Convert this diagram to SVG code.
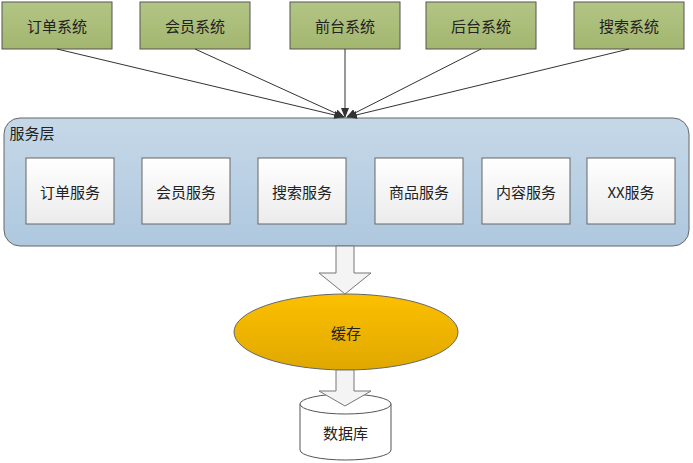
<svg xmlns="http://www.w3.org/2000/svg" width="693" height="463" viewBox="0 0 693 463">
<style>
text{font-family:"Noto Sans CJK SC","Liberation Sans",sans-serif;font-size:15px;fill:#222;text-anchor:middle;dominant-baseline:central}
.sys{fill:url(#g);stroke:#555;stroke-width:1}
.svc{fill:url(#w);stroke:#666;stroke-width:1}
.ln{stroke:#333;stroke-width:1;fill:none;marker-end:url(#ah)}
.big{fill:#f4f4f4;stroke:#777;stroke-width:1}
</style>
<defs>
<linearGradient id="g" x1="0" y1="0" x2="0" y2="1"><stop offset="0" stop-color="#b3c585"/><stop offset="1" stop-color="#a3b66f"/></linearGradient>
<linearGradient id="w" x1="0" y1="0" x2="0" y2="1"><stop offset="0" stop-color="#ffffff"/><stop offset="1" stop-color="#ebebeb"/></linearGradient>
<linearGradient id="b" x1="0" y1="0" x2="0" y2="1"><stop offset="0" stop-color="#c6d8e8"/><stop offset="1" stop-color="#aec8df"/></linearGradient>
<linearGradient id="o" x1="0" y1="0" x2="0" y2="1"><stop offset="0" stop-color="#fcc000"/><stop offset="1" stop-color="#e0a800"/></linearGradient>
<marker id="ah" markerWidth="10" markerHeight="8" refX="9" refY="4" orient="auto" markerUnits="userSpaceOnUse"><path d="M0,0 L10,4 L0,8 Z" fill="#333"/></marker>
</defs>
<g id="layer"><rect x="4" y="118" width="685" height="128" rx="16" fill="url(#b)" stroke="#666"/><text x="32" y="132">服务层</text></g>
<g id="s1"><rect class="sys" x="2" y="2" width="110" height="47"/><text x="57" y="25">订单系统</text></g>
<g id="s2"><rect class="sys" x="140" y="2" width="110" height="47"/><text x="195" y="25">会员系统</text></g>
<g id="s3"><rect class="sys" x="290" y="2" width="110" height="47"/><text x="345" y="25">前台系统</text></g>
<g id="s4"><rect class="sys" x="426" y="2" width="110" height="47"/><text x="481" y="25">后台系统</text></g>
<g id="s5"><rect class="sys" x="574" y="2" width="110" height="47"/><text x="629" y="25">搜索系统</text></g>
<g id="v1"><rect class="svc" x="26" y="158" width="88" height="66"/><text x="70" y="191">订单服务</text></g>
<g id="v2"><rect class="svc" x="142" y="158" width="88" height="66"/><text x="186" y="191">会员服务</text></g>
<g id="v3"><rect class="svc" x="258" y="158" width="88" height="66"/><text x="302" y="191">搜索服务</text></g>
<g id="v4"><rect class="svc" x="375" y="158" width="88" height="66"/><text x="419" y="191">商品服务</text></g>
<g id="v5"><rect class="svc" x="482" y="158" width="88" height="66"/><text x="526" y="191">内容服务</text></g>
<g id="v6"><rect class="svc" x="587" y="158" width="88" height="66"/><text x="631" y="191">XX服务</text></g>
<g id="cache"><ellipse cx="346" cy="332" rx="112" ry="38" fill="url(#o)" stroke="#666"/><text x="346" y="332">缓存</text></g>
<g id="db"><path d="M300,404 L300,450 A45.5,10 0 0 0 391,450 L391,404" fill="#fff" stroke="#555"/><ellipse cx="345.5" cy="404" rx="45.5" ry="10" fill="#fff" stroke="#555"/><text x="345.5" y="432">数据库</text></g>
<g id="connectors">
<line class="ln" x1="57" y1="49" x2="343" y2="117"/>
<line class="ln" x1="195" y1="49" x2="344" y2="117"/>
<line class="ln" x1="345" y1="49" x2="345" y2="117"/>
<line class="ln" x1="481" y1="49" x2="347" y2="117"/>
<line class="ln" x1="629" y1="49" x2="348" y2="117"/>
<path class="big" d="M336,246 L354,246 L354,273 L371,273 L345,294 L319,273 L336,273 Z"/>
<path class="big" d="M336,370 L354,370 L354,391 L371,391 L345,406 L319,391 L336,391 Z"/>
</g>
</svg>
